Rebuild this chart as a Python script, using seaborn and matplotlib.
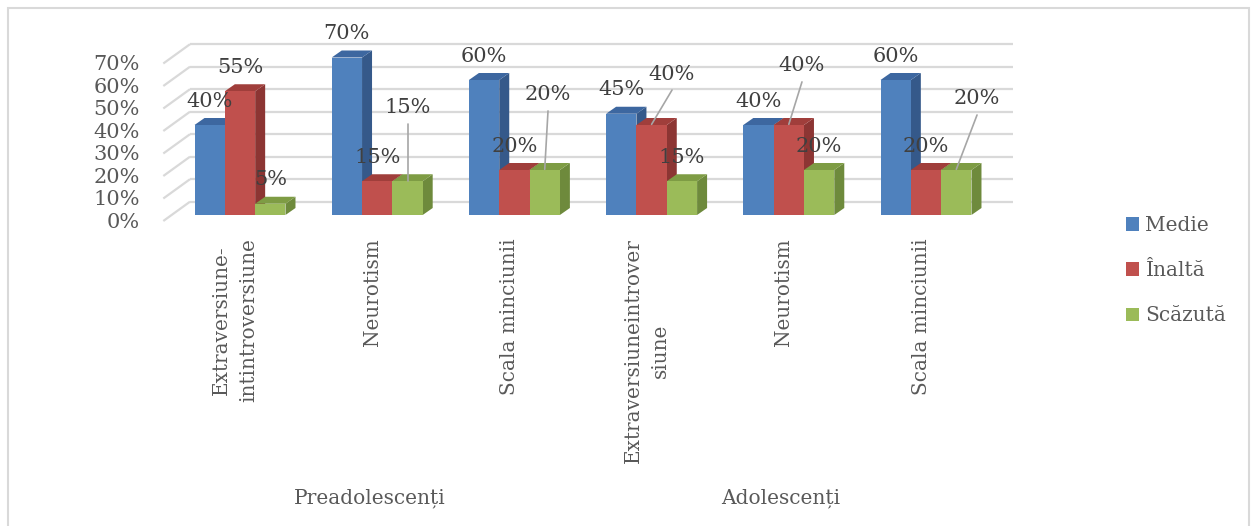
import matplotlib
matplotlib.use("Agg")
import matplotlib.pyplot as plt
from matplotlib.patches import Polygon, Rectangle
import seaborn as sns
import pandas as pd

# ---- data ----
groups = ["Preadolescenți", "Adolescenți"]
categories = [
    "Extraversiune-\nintintroversiune", "Neurotism", "Scala minciunii",
    "Extraversiuneintrover\nsiune", "Neurotism", "Scala minciunii",
]
series = ["Medie", "Înaltă", "Scăzută"]
medie = [40, 70, 60, 45, 40, 60]
inalta = [55, 15, 20, 40, 40, 20]
scazuta = [5, 15, 20, 15, 20, 20]
y_ticks = [0, 10, 20, 30, 40, 50, 60, 70]

# ---- styling ----
FRONT = ["#4F81BD", "#C0504D", "#9BBB59"]
SIDE = ["#35598A", "#8C3533", "#6E8A3C"]
TOP = ["#3D67A0", "#A03E3B", "#7E9C44"]
GRID = "#D9D9D9"
TXT = "#595959"
VAL = "#404040"
FONT = "DejaVu Serif"

sns.set_theme(style="white")
plt.rcParams["font.family"] = [FONT, "DejaVu Sans"]

W, H = 1253, 526
fig = plt.figure(figsize=(W / 100, H / 100), dpi=100)
fig.patch.set_facecolor("white")

# axes placed so one category step = 137.2 px and 1 % = 2.25 px
PX_X, PX_Y = 137.2, 2.25
X0_PX, Y0_PX = 240, 215          # pixel of category 0 / value 0
L, R, T, B = 100, 1030, 20, 230
ax = fig.add_axes([L / W, 1 - B / H, (R - L) / W, (B - T) / H])

slots = [str(i) for i in range(len(categories))]
df = pd.DataFrame({
    "slot": slots * 3,
    "nivel": [s for s in series for _ in slots],
    "pct": medie + inalta + scazuta,
})
sns.barplot(data=df, x="slot", y="pct", hue="nivel", order=slots,
            hue_order=series, palette=FRONT, width=0.663, saturation=1,
            errorbar=None, ax=ax, legend=False, linewidth=0)
ax.set_xlim((L - X0_PX) / PX_X, (R - X0_PX) / PX_X)
ax.set_ylim((Y0_PX - B) / PX_Y, (Y0_PX - T) / PX_Y)
ax.axis("off")

# depth of the 3-D look (data units)
DX, DY = 10 / PX_X, 7 / PX_Y
BACK_DX, BACK_DY = (190 - X0_PX) / PX_X, 13.3 / PX_Y
FRONT_X = (163.3 - X0_PX) / PX_X
FRONT_DY = -6 / PX_Y
RIGHT_X = (1013 - X0_PX) / PX_X

# walls: back gridlines + diagonal side-wall lines
for v in y_ticks:
    ax.plot([BACK_DX, RIGHT_X], [v + BACK_DY, v + BACK_DY], color=GRID,
            lw=1.6, zorder=0, solid_capstyle="butt")
    ax.plot([FRONT_X, BACK_DX], [v + FRONT_DY, v + BACK_DY], color=GRID,
            lw=1.6, zorder=0, solid_capstyle="butt")
    ax.text((140 - X0_PX) / PX_X, v - 3.3, f"{v}%", ha="right", va="center",
            fontsize=15, color=TXT)

# side and top faces for every bar
for j, cont in enumerate(ax.containers):
    for p in cont:
        p.set_zorder(3 + 2 * j)
        x0, w, h = p.get_x(), p.get_width(), p.get_height()
        side = Polygon([(x0 + w, 0), (x0 + w + DX, DY), (x0 + w + DX, h + DY),
                        (x0 + w, h)], closed=True, facecolor=SIDE[j],
                       edgecolor="none", zorder=2 + 2 * j)
        top = Polygon([(x0, h), (x0 + DX, h + DY), (x0 + w + DX, h + DY),
                       (x0 + w, h)], closed=True, facecolor=TOP[j],
                      edgecolor="none", zorder=2 + 2 * j)
        ax.add_patch(side)
        ax.add_patch(top)

# value labels; a few are lifted and tied to their bar with a leader
LABEL_GAP = 24 / PX_Y
LEADER_GAP = 16 / PX_Y
label_shift = {(1, 2): (0.0, 21.9), (2, 2): (0.024, 22.7), (3, 1): (0.149, 12.0),
               (4, 1): (0.096, 15.6), (5, 2): (0.151, 20.9)}
for j, cont in enumerate(ax.containers):
    for i, p in enumerate(cont):
        v = p.get_height()
        cx = p.get_x() + p.get_width() / 2
        sx, sy = label_shift.get((i, j), (0.0, 0.0))
        lx, ly = cx + sx, v + LABEL_GAP + sy
        ax.text(lx, ly, f"{v:.0f}%", ha="center", va="center", fontsize=15,
                color=VAL, zorder=20)
        if (i, j) in label_shift:
            ax.plot([lx, cx], [ly - LEADER_GAP, v + 0.3], color="#A6A6A6",
                    lw=1.2, zorder=19)

# category and group labels
for i, name in enumerate(categories):
    ax.text(i - 0.036, (Y0_PX - 238) / PX_Y, name, rotation=90, ha="center",
            va="top", fontsize=14.4, color=TXT, linespacing=1.55,
            multialignment="center")
for g, cx_px in zip(groups, [370, 781]):
    ax.text((cx_px - X0_PX) / PX_X, (Y0_PX - 498) / PX_Y, g, ha="center",
            va="center", fontsize=14.5, color=TXT)

# legend
handles = [Rectangle((0, 0), 1, 1, facecolor=c, edgecolor="none") for c in FRONT]
fig.legend(handles, series, loc="upper left",
           bbox_to_anchor=(1126 / W, 1 - 216 / H), frameon=False,
           fontsize=14.5, labelcolor=TXT, handlelength=0.65, handleheight=0.65,
           handletextpad=0.3, labelspacing=1.3, borderpad=0, borderaxespad=0)

# outer frame
fig.patches.append(Rectangle((8 / W, -0.02), (1249 - 8) / W, 1.02 - 8 / H,
                             transform=fig.transFigure, fill=False,
                             edgecolor=GRID, lw=1.5))

fig.savefig("out.png", dpi=100)
